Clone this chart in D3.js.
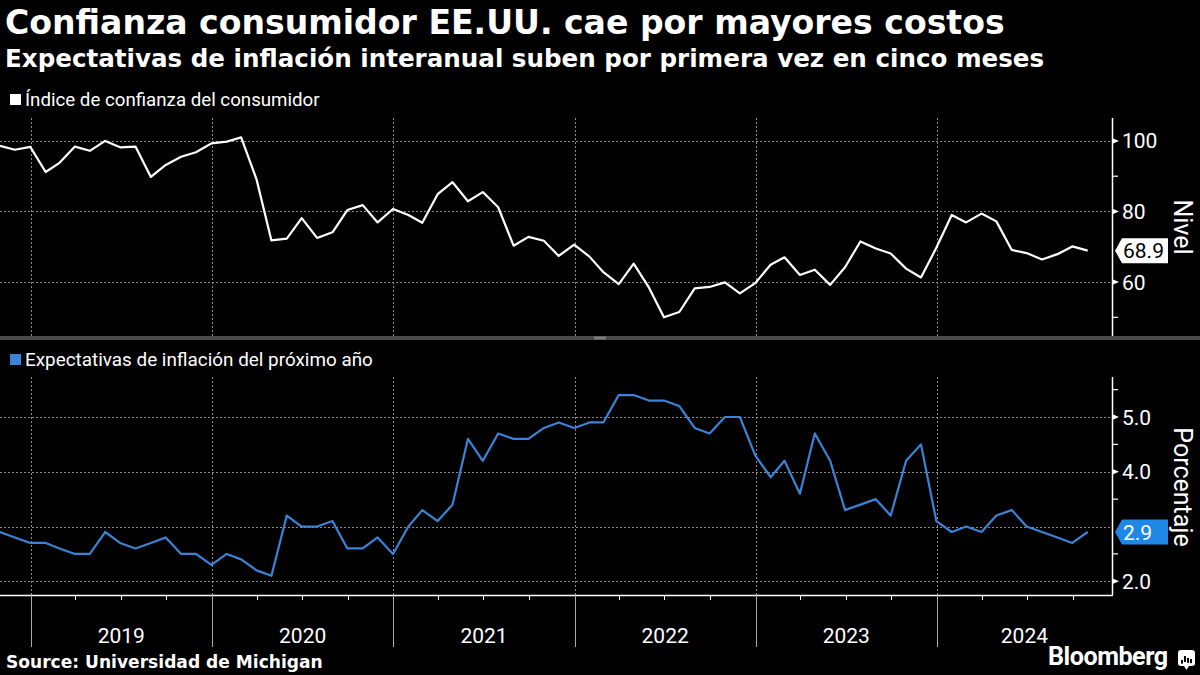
<!DOCTYPE html>
<html><head><meta charset="utf-8">
<script src="https://cdn.jsdelivr.net/npm/d3@7"></script>
<style>html,body{margin:0;padding:0;background:#000;} svg{display:block}</style>
</head><body><svg id="c" width="1200" height="675"></svg>
<script>
// ---------- DATA ----------
const months = ["2018-10","2018-11","2018-12",
 "2019-01","2019-02","2019-03","2019-04","2019-05","2019-06","2019-07","2019-08","2019-09","2019-10","2019-11","2019-12",
 "2020-01","2020-02","2020-03","2020-04","2020-05","2020-06","2020-07","2020-08","2020-09","2020-10","2020-11","2020-12",
 "2021-01","2021-02","2021-03","2021-04","2021-05","2021-06","2021-07","2021-08","2021-09","2021-10","2021-11","2021-12",
 "2022-01","2022-02","2022-03","2022-04","2022-05","2022-06","2022-07","2022-08","2022-09","2022-10","2022-11","2022-12",
 "2023-01","2023-02","2023-03","2023-04","2023-05","2023-06","2023-07","2023-08","2023-09","2023-10","2023-11","2023-12",
 "2024-01","2024-02","2024-03","2024-04","2024-05","2024-06","2024-07","2024-08","2024-09","2024-10"];
const sentiment = [98.6, 97.5, 98.3,
 91.2, 93.8, 98.4, 97.2, 100.0, 98.2, 98.4, 89.8, 93.2, 95.5, 96.8, 99.3,
 99.8, 101.0, 89.1, 71.8, 72.3, 78.1, 72.5, 74.1, 80.4, 81.8, 76.9, 80.7,
 79.0, 76.8, 84.9, 88.3, 82.9, 85.5, 81.2, 70.3, 72.8, 71.7, 67.4, 70.6,
 67.2, 62.8, 59.4, 65.2, 58.4, 50.0, 51.5, 58.2, 58.6, 59.9, 56.8, 59.7,
 64.9, 67.0, 62.0, 63.5, 59.2, 64.2, 71.5, 69.5, 68.1, 63.8, 61.3, 69.7,
 79.0, 76.9, 79.4, 77.2, 69.1, 68.2, 66.4, 67.9, 70.1, 68.9];
const inflationExp = [2.9, 2.8, 2.7,
 2.7, 2.6, 2.5, 2.5, 2.9, 2.7, 2.6, 2.7, 2.8, 2.5, 2.5, 2.3,
 2.5, 2.4, 2.2, 2.1, 3.2, 3.0, 3.0, 3.1, 2.6, 2.6, 2.8, 2.5,
 3.0, 3.3, 3.1, 3.4, 4.6, 4.2, 4.7, 4.6, 4.6, 4.8, 4.9, 4.8,
 4.9, 4.9, 5.4, 5.4, 5.3, 5.3, 5.2, 4.8, 4.7, 5.0, 5.0, 4.3,
 3.9, 4.2, 3.6, 4.7, 4.2, 3.3, 3.4, 3.5, 3.2, 4.2, 4.5, 3.1,
 2.9, 3.0, 2.9, 3.2, 3.3, 3.0, 2.9, 2.8, 2.7, 2.9];
const years = ["2019","2020","2021","2022","2023","2024"];
const topTicks = [60, 80, 100];
const topMinorTicks = [50, 90];
const bottomGrid = [2, 3, 4, 5];
const bottomTickLabels = [2, 4, 5];
const bottomMinorTicks = [2.5, 3.5, 4.5, 5.5];
const title = "Confianza consumidor EE.UU. cae por mayores costos";
const subtitle = "Expectativas de inflación interanual suben por primera vez en cinco meses";
const legendTop = "Índice de confianza del consumidor";
const legendBottom = "Expectativas de inflación del próximo año";
const source = "Source: Universidad de Michigan";

// ---------- SETUP ----------
const svg = d3.select("#c");
svg.append("rect").attr("width",1200).attr("height",675).attr("fill","#000");
const FONT = "Roboto, 'DejaVu Sans', sans-serif";
const BOLD = "'DejaVu Sans', sans-serif";
const BLUE_LINE = "#3b83d6", BLUE_BOX = "#1f87e5", GRID = "#8c8c8c";

const parse = s => { const [y,m] = s.split("-").map(Number); return new Date(y, m, 0); };
const dates = months.map(parse);

const plotR = 1112;
const x = d3.scaleTime().domain([new Date(2018,9,31), new Date(2024,11,19)]).range([0, plotR]);
const pTop = {y0:118, y1:336};
const pBot = {y0:377, y1:595};
const yTop = d3.scaleLinear().domain([44.7, 106.5]).range([pTop.y1, pTop.y0]);
const yBot = d3.scaleLinear().domain([1.75, 5.73]).range([pBot.y1, pBot.y0]);

function fit(sel, w){
  const bw = sel.node().getBBox().width;
  const fs = parseFloat(sel.attr("font-size"));
  sel.attr("font-size", fs * w / bw);
  return sel;
}

// ---------- TITLES ----------
fit(svg.append("text").attr("x",5).attr("y",34).attr("fill","#fff")
  .attr("font-family",BOLD).attr("font-weight","bold").attr("font-size",32).text(title), 1000);
fit(svg.append("text").attr("x",5).attr("y",67).attr("fill","#fff")
  .attr("font-family",BOLD).attr("font-weight","bold").attr("font-size",24).text(subtitle), 1040);

// legends
svg.append("rect").attr("x",10).attr("y",94).attr("width",11).attr("height",11).attr("fill","#fff");
fit(svg.append("text").attr("x",25).attr("y",106).attr("fill","#fff")
  .attr("font-family",FONT).attr("font-size",17).text(legendTop), 295);
svg.append("rect").attr("x",10).attr("y",354).attr("width",11).attr("height",11).attr("fill",BLUE_LINE);
fit(svg.append("text").attr("x",25).attr("y",366).attr("fill","#fff")
  .attr("font-family",FONT).attr("font-size",17).text(legendBottom), 348);

// ---------- GRIDS ----------
const yearStarts = years.map(y => new Date(+y, 0, 1));
function panelGrid(p, yScale, vals){
  const g = svg.append("g").attr("stroke",GRID).attr("stroke-width",1).attr("stroke-dasharray","2,2");
  g.selectAll("line.h").data(vals).join("line").attr("class","h")
    .attr("x1",0).attr("x2",plotR).attr("y1",d=>Math.round(yScale(d))+0.5).attr("y2",d=>Math.round(yScale(d))+0.5);
  g.selectAll("line.v").data(yearStarts).join("line").attr("class","v")
    .attr("x1",d=>Math.round(x(d))+0.5).attr("x2",d=>Math.round(x(d))+0.5).attr("y1",p.y0).attr("y2",p.y1);
}
panelGrid(pTop, yTop, topTicks);
panelGrid(pBot, yBot, bottomGrid);

// ---------- LINES ----------
const lineTop = d3.line().x((d,i)=>x(dates[i])).y(d=>yTop(d));
const lineBot = d3.line().x((d,i)=>x(dates[i])).y(d=>yBot(d));
svg.append("path").attr("d",lineTop(sentiment)).attr("fill","none").attr("stroke","#fff")
  .attr("stroke-width",2.2).attr("stroke-linejoin","round");
svg.append("path").attr("d",lineBot(inflationExp)).attr("fill","none").attr("stroke",BLUE_LINE)
  .attr("stroke-width",2.2).attr("stroke-linejoin","round");

// ---------- Y AXES ----------
function yAxis(p, yScale, majors, minors, fmt){
  const g = svg.append("g");
  g.append("line").attr("x1",plotR+0.5).attr("x2",plotR+0.5).attr("y1",p.y0).attr("y2",p.y1)
    .attr("stroke","#fff").attr("stroke-width",1.5);
  g.selectAll("path.tk").data(majors).join("path").attr("class","tk")
    .attr("d",d=>{const y=yScale(d);return `M${plotR},${y-3}L${plotR+7},${y}L${plotR},${y+3}Z`;})
    .attr("fill","#fff");
  g.selectAll("line.mn").data(minors).join("line").attr("class","mn")
    .attr("x1",plotR).attr("x2",plotR+6).attr("y1",d=>yScale(d)).attr("y2",d=>yScale(d))
    .attr("stroke","#fff").attr("stroke-width",1.2);
  g.selectAll("text.lb").data(majors).join("text").attr("class","lb")
    .attr("x",plotR+10).attr("y",d=>yScale(d)).attr("dy","0.36em")
    .attr("fill","#fff").attr("font-family",FONT).attr("font-size",21).text(fmt);
}
yAxis(pTop, yTop, topTicks, topMinorTicks, d=>d3.format("d")(d));
yAxis(pBot, yBot, bottomTickLabels, bottomMinorTicks, d=>d3.format(".1f")(d));

// axis titles
svg.append("text").attr("transform",`translate(1174,${(pTop.y0+pTop.y1)/2}) rotate(90)`)
  .attr("text-anchor","middle").attr("fill","#fff").attr("font-family",FONT).attr("font-size",25).text("Nivel");
svg.append("text").attr("transform",`translate(1174,${(pBot.y0+pBot.y1)/2+1}) rotate(90)`)
  .attr("text-anchor","middle").attr("fill","#fff").attr("font-family",FONT).attr("font-size",25).text("Porcentaje");

// last value labels
function valueTag(yc, txt, bg, fg){
  const g = svg.append("g");
  g.append("path").attr("d",`M${plotR+3},${yc}L${plotR+10},${yc-12.5}L1168,${yc-12.5}L1168,${yc+12.5}L${plotR+10},${yc+12.5}Z`)
    .attr("fill",bg);
  g.append("text").attr("x",plotR+11).attr("y",yc).attr("dy","0.36em").attr("fill",fg)
    .attr("font-family",FONT).attr("font-size",21).text(txt);
}
valueTag(yTop(sentiment[sentiment.length-1]), d3.format(".1f")(sentiment[sentiment.length-1]), "#fff", "#000");
valueTag(yBot(inflationExp[inflationExp.length-1]), d3.format(".1f")(inflationExp[inflationExp.length-1]), BLUE_BOX, "#fff");

// ---------- SEPARATOR ----------
svg.append("rect").attr("x",0).attr("y",336).attr("width",1200).attr("height",4).attr("fill","#4a4a4a");
svg.append("line").attr("x1",594).attr("x2",606).attr("y1",337.2).attr("y2",337.2).attr("stroke","#aaa").attr("stroke-width",0.8);
svg.append("line").attr("x1",594).attr("x2",606).attr("y1",338.8).attr("y2",338.8).attr("stroke","#aaa").attr("stroke-width",0.8);

// ---------- X AXIS ----------
const xa = svg.append("g");
xa.append("line").attr("x1",0).attr("x2",plotR+1).attr("y1",595.5).attr("y2",595.5).attr("stroke","#fff").attr("stroke-width",1.5);
const quarters = d3.timeMonth.range(new Date(2018,9,1), new Date(2024,11,1), 3)
  .filter(d => d.getMonth() !== 0 && x(d) > 2 && x(d) < plotR - 2);
xa.selectAll("line.q").data(quarters).join("line").attr("class","q")
  .attr("x1",d=>Math.round(x(d))+0.5).attr("x2",d=>Math.round(x(d))+0.5).attr("y1",595).attr("y2",600)
  .attr("stroke","#fff").attr("stroke-width",1);
xa.selectAll("line.y").data(yearStarts).join("line").attr("class","y")
  .attr("x1",d=>Math.round(x(d))+0.5).attr("x2",d=>Math.round(x(d))+0.5).attr("y1",595).attr("y2",647)
  .attr("stroke","#aaa").attr("stroke-width",1);
xa.selectAll("text.yl").data(years).join("text").attr("class","yl")
  .attr("x",d=>{const a=x(new Date(+d,0,1)), b=Math.min(plotR, x(new Date(+d+1,0,1))); return (a+b)/2;})
  .attr("y",643).attr("text-anchor","middle").attr("fill","#fff")
  .attr("font-family",FONT).attr("font-size",21).text(d=>d);

// ---------- FOOTER ----------
fit(svg.append("text").attr("x",6).attr("y",668).attr("fill","#fff")
  .attr("font-family",BOLD).attr("font-weight","bold").attr("font-size",18).text(source), 317);
fit(svg.append("text").attr("x",1048).attr("y",665).attr("fill","#fff")
  .attr("font-family","Roboto, sans-serif").attr("font-weight","bold").attr("font-size",22).attr("letter-spacing",-0.5).text("Bloomberg"), 119);
const logo = svg.append("g");
logo.append("rect").attr("x",1178).attr("y",650).attr("width",17).attr("height",16).attr("rx",3).attr("fill","#fff");
logo.append("path").attr("d","M1184,666L1186.5,670L1189,666Z").attr("fill","#fff");
[[1181,660,6],[1184,656,10],[1187,658,8],[1190,659,7]].forEach(([bx,by,bh])=>{
  logo.append("rect").attr("x",bx).attr("y",by).attr("width",2).attr("height",bh*0.6).attr("fill","#000");
});
</script></body></html>
